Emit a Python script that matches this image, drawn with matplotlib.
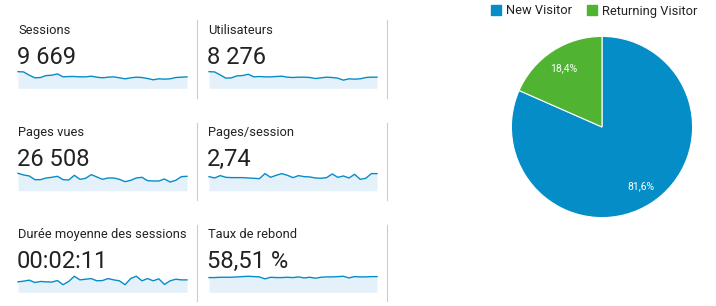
import matplotlib.pyplot as plt

plt.rcParams['font.family'] = ['Roboto', 'DejaVu Sans']

# daily values behind each sparkline (31 days)
sessions = [459, 450, 360, 288, 297, 351, 360, 396, 315, 324, 324, 315, 315, 333, 306, 288,
            306, 315, 288, 261, 288, 306, 297, 270, 234, 261, 252, 261, 297, 306, 315]
users = [408, 400, 328, 248, 256, 304, 312, 344, 280, 288, 280, 280, 288, 296, 272, 264,
         272, 272, 264, 240, 256, 272, 264, 248, 200, 232, 224, 232, 264, 272, 272]
pageviews = [1404, 1269, 1188, 891, 891, 1026, 1080, 1161, 891, 864, 1242, 918, 999, 1296, 1107, 918,
             1026, 1026, 918, 729, 837, 1026, 1080, 810, 783, 783, 945, 702, 837, 1134, 1161]
pages_per_session = [2.73, 2.47, 2.93, 2.60, 2.54, 2.54, 2.54, 2.47, 2.41, 2.34, 3.32, 2.60, 2.99, 3.32, 2.99, 2.54,
                     2.93, 2.73, 2.67, 2.47, 2.41, 2.54, 3.25, 2.60, 2.86, 2.47, 3.19, 2.21, 2.41, 3.32, 3.32]
duration = [112, 119, 130, 105, 116, 112, 109, 126, 81, 116, 172, 133, 140, 147, 123, 126,
            147, 133, 123, 81, 147, 172, 123, 147, 123, 144, 84, 123, 140, 133, 133]
bounce = [56.3, 56.3, 57.5, 57.5, 57.5, 58.8, 60.0, 61.3, 60.0, 58.8, 51.3, 57.5, 56.3, 56.3, 57.5, 56.3,
          58.8, 55.0, 57.5, 53.8, 57.5, 58.8, 58.8, 60.0, 61.3, 55.0, 60.0, 58.8, 58.8, 60.0, 60.0]

titles = ['Sessions', 'Utilisateurs', 'Pages vues', 'Pages/session',
          'Durée moyenne des sessions', 'Taux de rebond']
totals = ['9 669', '8 276', '26 508', '2,74', '00:02:11', '58,51 %']
series = [sessions, users, pageviews, pages_per_session, duration, bounce]
tops = [468, 416, 1404, 3.38, 182, 65]

pie_labels = ['New Visitor', 'Returning Visitor']
pie_values = [81.6, 18.4]

BLUE = '#058dc7'
GREEN = '#50b432'
FILL = '#e5f1fa'
TEXT = '#222222'

W, H = 716, 306
fig = plt.figure(figsize=(W / 100, H / 100), dpi=100)


def fx(x):
    return x / W


def fy(y):
    return 1 - y / H


col_x = [18, 208]
spark_x = [(18, 187), (209, 377)]
row_title = [34.3, 136, 238.3]
row_value = [64, 166, 268.3]
row_spark = [(71.3, 88.3), (173.3, 190.7), (275.3, 292.3)]
row_sep = [(20, 98), (123, 200), (225, 301)]

for i in range(6):
    r, c = divmod(i, 2)
    fig.text(fx(col_x[c]), fy(row_title[r]), titles[i], fontsize=9.25,
             color=TEXT, va='baseline', ha='left')
    fig.text(fx(col_x[c] - 1), fy(row_value[r]), totals[i], fontsize=17.1,
             color=TEXT, va='baseline', ha='left')
    x0, x1 = spark_x[c]
    y0, y1 = row_spark[r]
    ax = fig.add_axes([fx(x0), fy(y1), (x1 - x0) / W, (y1 - y0) / H])
    xs = range(len(series[i]))
    ax.fill_between(xs, series[i], 0, color=FILL, lw=0)
    ax.plot(xs, series[i], color=BLUE, lw=1.0, clip_on=False)
    ax.set_xlim(0, len(series[i]) - 1)
    ax.set_ylim(0, tops[i])
    ax.axis('off')

# separators
for r in range(3):
    for x in (196.5, 387):
        ya, yb = row_sep[r]
        fig.add_artist(plt.Line2D([fx(x), fx(x)], [fy(ya), fy(yb)],
                                  color='#cccccc', lw=0.8))

# pie
cx, cy, rad = 602, 127, 91.5
pax = fig.add_axes([fx(cx - rad), fy(cy + rad), 2 * rad / W, 2 * rad / H])
wedges, _, autotexts = pax.pie(pie_values, colors=[BLUE, GREEN], startangle=90,
                               counterclock=False, radius=1,
                               autopct=lambda p: f'{p:.1f}%'.replace('.', ','),
                               pctdistance=0.78,
                               wedgeprops=dict(edgecolor='white', linewidth=0.8))
for t in autotexts:
    t.set_color('white')
    t.set_fontsize(7.5)
pax.set_xlim(-1.01, 1.01)
pax.set_ylim(-1.01, 1.01)
pax.set_aspect('auto')

# legend
leg_x = [491, 587]
for lab, col, x in zip(pie_labels, [BLUE, GREEN], leg_x):
    fig.add_artist(plt.Rectangle((fx(x), fy(15)), 10 / W, 10 / H, color=col))
    fig.text(fx(x + 15), fy(14.5), lab, fontsize=9.3, color=TEXT,
             va='baseline', ha='left')

fig.savefig('out.png', dpi=100, facecolor='white')
